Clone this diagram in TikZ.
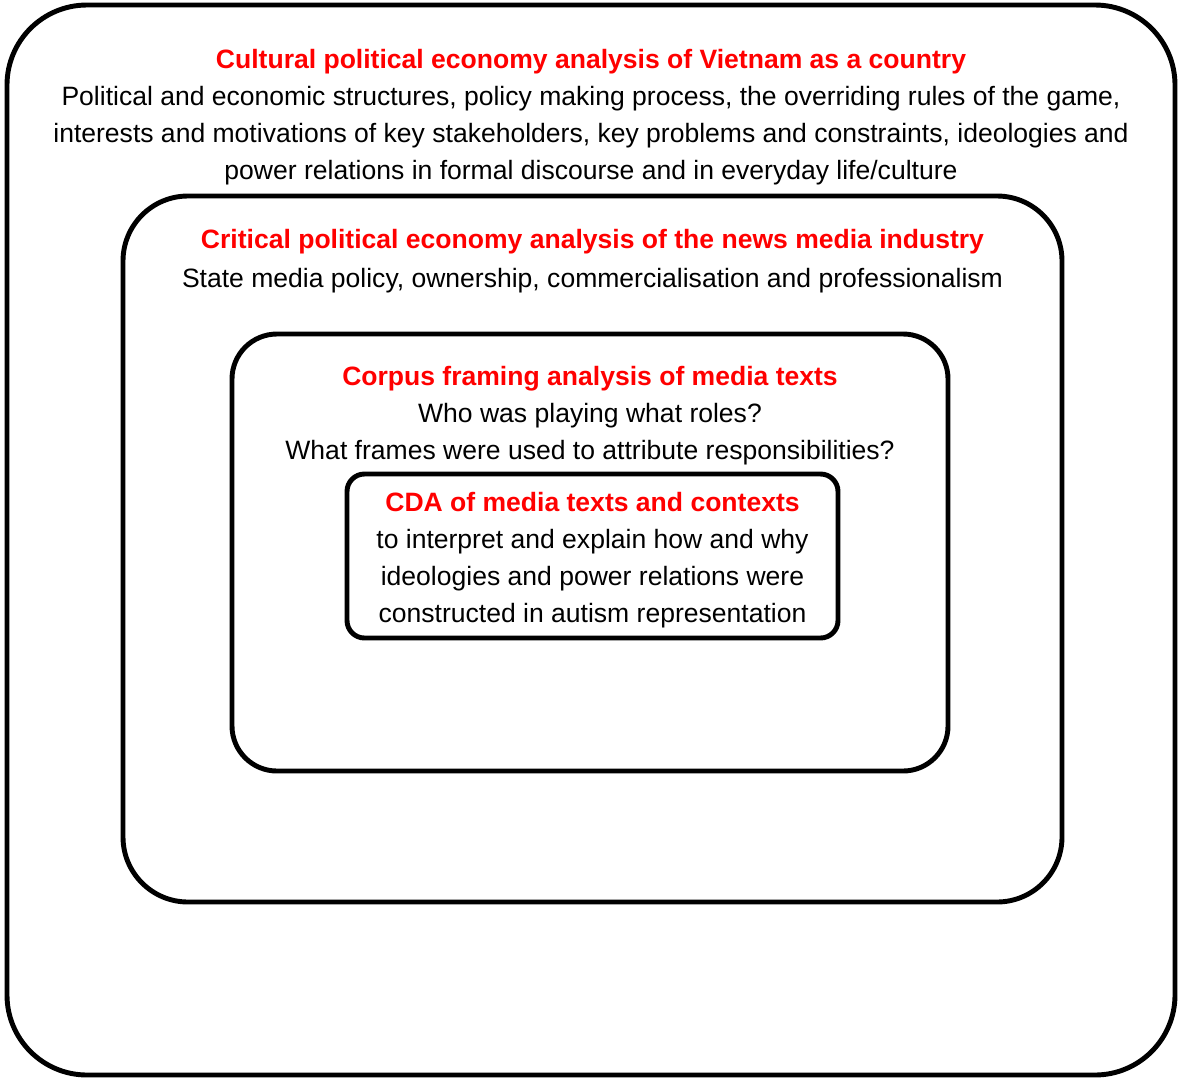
\documentclass[tikz,border=0pt]{standalone}
\usepackage{fontspec}
\setmainfont{Liberation Sans}
\usepackage{xcolor}
\usetikzlibrary{positioning}
\definecolor{HeadRed}{RGB}{255,0,0}
\tikzset{
  frame/.style={draw=black,line width=2.8pt,fill=none},
  txt/.style={align=center,inner sep=0pt,font=\fontsize{15.1}{21.1}\selectfont,anchor=north},
}
\newcommand{\hd}[1]{{\color{HeadRed}\bfseries #1}}

\begin{document}
\begin{tikzpicture}
  \useasboundingbox (0,0) rectangle (23.56,-21.56);
  % nested levels of analysis, outermost first
  \node[frame, rounded corners=1.6cm, minimum width=23.36cm, minimum height=21.4cm] (country) at (11.82,-10.8) {};
  \node[frame, rounded corners=1.3cm, minimum width=18.78cm, minimum height=14.12cm] (industry) at (11.85,-10.98) {};
  \node[frame, rounded corners=0.9cm, minimum width=14.32cm, minimum height=8.74cm] (corpus) at (11.8,-11.05) {};
  \node[frame, rounded corners=0.35cm, minimum width=9.82cm, minimum height=3.28cm] (cda) at (11.85,-11.12) {};

  % text of each level
  \node[txt, below=0.92cm of country.north] (countrytxt)
    {\hd{Cultural political economy analysis of Vietnam as a country}\\
     Political and economic structures, policy making process, the overriding rules of the game,\\
     interests and motivations of key stakeholders, key problems and constraints, ideologies and\\
     power relations in formal discourse and in everyday life/culture};
  \node[txt, below=0.7cm of industry.north] (industrytxt)
    {\hd{Critical political economy analysis of the news media industry}\\[0.04cm]
     State media policy, ownership, commercialisation and professionalism};
  \node[txt, below=0.68cm of corpus.north] (corpustxt)
    {\hd{Corpus framing analysis of media texts}\\
     Who was playing what roles?\\
     What frames were used to attribute responsibilities?};
  \node[txt, below=0.4cm of cda.north] (cdatxt)
    {\hd{CDA of media texts and contexts}\\
     to interpret and explain how and why\\
     ideologies and power relations were\\
     constructed in autism representation};
\end{tikzpicture}
\end{document}
